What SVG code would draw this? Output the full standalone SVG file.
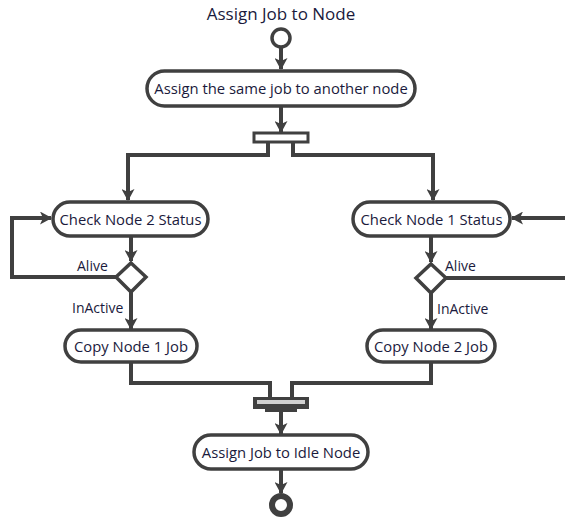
<svg xmlns="http://www.w3.org/2000/svg" width="565" height="520" viewBox="0 0 565 520">
<defs>
<marker id="ah" markerWidth="13" markerHeight="13" refX="11" refY="6.5" orient="auto" markerUnits="userSpaceOnUse">
<path d="M0,0 L12,6.5 L0,13 L3,6.5 Z" fill="#404040"/>
</marker>
<style>
.box{fill:#ffffff;stroke:#404040;stroke-width:3.5}
.t{font-family:"Open Sans","Liberation Sans",Arial,sans-serif;font-size:14.8px;fill:#1a1a3c;text-anchor:middle}
.lbl{font-family:"Open Sans","Liberation Sans",Arial,sans-serif;font-size:14px;fill:#1a1a3c}
.c{fill:none;stroke:#404040;stroke-width:4}
</style>
</defs>
<rect width="565" height="520" fill="#ffffff"/>
<text x="281" y="20" class="t" style="font-size:17px">Assign Job to Node</text>

<g id="connectors">
<path class="c" d="M281,48 V69" marker-end="url(#ah)"/>
<path class="c" d="M281,106 V132" marker-end="url(#ah)"/>
<path class="c" d="M268,141 V155 H128 V200" marker-end="url(#ah)"/>
<path class="c" d="M293,141 V155 H433 V200" marker-end="url(#ah)"/>
<path class="c" d="M131,236 V261" marker-end="url(#ah)"/>
<path class="c" d="M117,277 H12 V218 H51" marker-end="url(#ah)"/>
<path class="c" d="M131,292 V329" marker-end="url(#ah)"/>
<path class="c" d="M431,236 V262" marker-end="url(#ah)"/>
<path class="c" d="M565,218 H512" marker-end="url(#ah)"/>
<path class="c" d="M446,278 H565"/>
<path class="c" d="M431,293 V329" marker-end="url(#ah)"/>
<path class="c" d="M131,362 V383 H270 V400"/>
<path class="c" d="M431,362 V383 H292 V400"/>
<path class="c" d="M281,410 V434" marker-end="url(#ah)"/>
<path class="c" d="M281,469 V493" marker-end="url(#ah)"/>
</g>

<g id="start"><circle cx="281" cy="38" r="9" fill="#ffffff" stroke="#404040" stroke-width="3.5"/></g>

<g id="assign-same-job">
<rect class="box" x="147" y="71" width="268" height="35" rx="17.5"/>
<text class="t" x="281" y="94">Assign the same job to another node</text>
</g>

<g id="fork">
<rect x="254" y="133" width="54" height="9" fill="#ffffff" stroke="#404040" stroke-width="3"/>
</g>

<g id="check-node-2">
<rect class="box" x="53" y="202" width="155" height="34" rx="17"/>
<text class="t" x="130.5" y="224.5">Check Node 2 Status</text>
</g>

<g id="check-node-1">
<rect class="box" x="353" y="202" width="157" height="34" rx="17"/>
<text class="t" x="431.5" y="224.5">Check Node 1 Status</text>
</g>

<g id="decision-left">
<polygon points="131,263 146,277 131,292 116,277" fill="#ffffff" stroke="#404040" stroke-width="3.5"/>
<text class="lbl" x="77" y="271">Alive</text>
<text class="lbl" x="72" y="313">InActive</text>
</g>

<g id="decision-right">
<polygon points="431,264 446,278 431,293 416,278" fill="#ffffff" stroke="#404040" stroke-width="3.5"/>
<text class="lbl" x="445" y="271">Alive</text>
<text class="lbl" x="437" y="314">InActive</text>
</g>

<g id="copy-node-1">
<rect class="box" x="65" y="330" width="132" height="32" rx="16"/>
<text class="t" x="131" y="351.5">Copy Node 1 Job</text>
</g>

<g id="copy-node-2">
<rect class="box" x="367" y="330" width="128" height="32" rx="16"/>
<text class="t" x="431" y="351.5">Copy Node 2 Job</text>
</g>

<g id="join">
<rect x="253" y="397" width="56" height="12" fill="#404040"/>
<rect x="257" y="400" width="48" height="4" fill="#d0d0d0"/>
<rect x="265" y="408" width="32" height="4" fill="#404040"/>
</g>

<g id="assign-idle">
<rect class="box" x="194" y="435" width="174" height="34" rx="17"/>
<text class="t" x="281" y="457.5">Assign Job to Idle Node</text>
</g>

<g id="end"><circle cx="281" cy="505" r="9" fill="#ffffff" stroke="#404040" stroke-width="6"/></g>
</svg>
